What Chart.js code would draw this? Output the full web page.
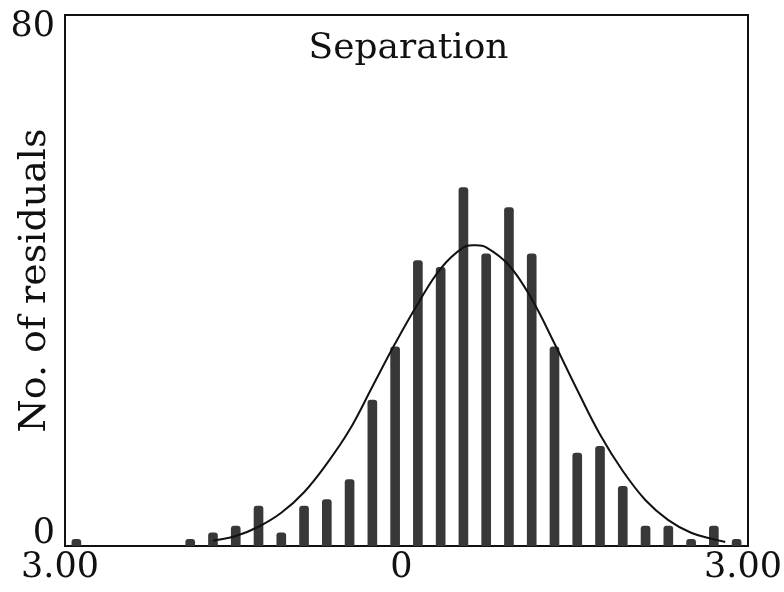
<!DOCTYPE html>
<html>
<head>
<meta charset="utf-8">
<script src="https://cdn.jsdelivr.net/npm/chart.js@4/dist/chart.umd.min.js"></script>
<style>
  html, body { margin: 0; padding: 0; background: #fff; }
  #wrap { position: relative; width: 784px; height: 592px; }
</style>
</head>
<body>
<div id="wrap"><canvas id="chart"></canvas></div>
<script>
// Histogram of separation residuals (bin width 0.2, bins labelled by centre)
const binCentres = [-2.9, -1.9, -1.7, -1.5, -1.3, -1.1, -0.9, -0.7, -0.5, -0.3, -0.1,
                    0.1, 0.3, 0.5, 0.7, 0.9, 1.1, 1.3, 1.5, 1.7, 1.9, 2.1, 2.3, 2.5, 2.7, 2.9];
const residualCounts = [1, 1, 2, 3, 6, 2, 6, 7, 10, 22, 30,
                        43, 42, 54, 44, 51, 44, 30, 14, 15, 9, 3, 3, 1, 3, 1];

// Fitted normal curve, sampled along the x axis
const curveX = [-1.7, -1.5, -1.3, -1.1, -0.9, -0.7, -0.5, -0.3, -0.1, 0.1, 0.3, 0.5, 0.6,
                0.7, 0.9, 1.1, 1.3, 1.5, 1.7, 1.9, 2.1, 2.3, 2.5, 2.7, 2.8];
const curveY = [0.8, 1.5, 2.9, 5.0, 8.1, 12.4, 17.5, 24.0, 30.5, 36.5, 41.8, 45.0, 45.3,
                45.0, 42.3, 37.2, 30.5, 23.5, 16.8, 11.3, 6.9, 3.9, 2.0, 1.0, 0.6];

// Axis ticks
const xTickValues = [-3, 0, 3];
const xTickLabels = ['3.00', '0', '3.00'];
const yTickValues = [0, 80];
const yTickLabels = ['0', '80'];

const chartTitle = 'Separation';
const yAxisTitle = 'No. of residuals';

const SERIF = '"DejaVu Serif", "Liberation Serif", serif';
const INK = '#111';

// Box around the plot area and the title written inside it
const frameAndTitle = {
  id: 'frameAndTitle',
  beforeDatasetsDraw(chart) {
    const { ctx, chartArea: a } = chart;
    ctx.save();
    ctx.strokeStyle = INK;
    ctx.lineWidth = 2;
    ctx.strokeRect(a.left, a.top, a.right - a.left, a.bottom - a.top);
    ctx.restore();
  },
  afterDraw(chart) {
    const { ctx, chartArea: a } = chart;
    ctx.save();
    ctx.font = '36px ' + SERIF;
    ctx.fillStyle = INK;
    ctx.textAlign = 'center';
    ctx.textBaseline = 'alphabetic';
    ctx.fillText(chartTitle, (a.left + a.right) / 2 + 2, a.top + 43);
    ctx.restore();
  }
};

new Chart(document.getElementById('chart'), {
  type: 'bar',
  data: {
    datasets: [
      {
        type: 'line',
        data: curveX.map((x, i) => ({ x, y: curveY[i] })),
        borderColor: INK,
        borderWidth: 2,
        pointRadius: 0,
        tension: 0.4,
        fill: false,
        order: 0
      },
      {
        type: 'bar',
        data: binCentres.map((x, i) => ({ x, y: residualCounts[i] })),
        backgroundColor: '#383838',
        barThickness: 9,
        borderRadius: 3,
        order: 1
      }
    ]
  },
  options: {
    responsive: true,
    maintainAspectRatio: false,
    animation: false,
    layout: { padding: { top: 15, right: 36, bottom: 0, left: 0 } },
    plugins: {
      legend: { display: false },
      tooltip: { enabled: false }
    },
    scales: {
      x: {
        type: 'linear',
        min: -3,
        max: 3,
        offset: false,
        grid: { display: false, drawTicks: false },
        border: { display: false },
        afterBuildTicks: s => { s.ticks = xTickValues.map(v => ({ value: v })); },
        ticks: {
          padding: 1,
          labelOffset: -5,
          maxRotation: 0,
          autoSkip: false,
          color: INK,
          font: { family: SERIF, size: 35 },
          callback: v => xTickLabels[xTickValues.indexOf(v)]
        },
        afterFit: s => { s.height = 46; s.paddingLeft = 0; s.paddingRight = 0; }
      },
      y: {
        min: 0,
        max: 80,
        grid: { display: false, drawTicks: false },
        border: { display: false },
        afterBuildTicks: s => { s.ticks = yTickValues.map(v => ({ value: v })); },
        ticks: {
          padding: 10,
          autoSkip: false,
          color: INK,
          font: { family: SERIF, size: 35, lineHeight: 0.686 },
          // end labels are nudged inward so they sit beside the frame corners
          callback: v => {
            const lab = yTickLabels[yTickValues.indexOf(v)];
            if (v === yTickValues[0]) return [lab, ''];
            if (v === yTickValues[yTickValues.length - 1]) return ['', lab];
            return lab;
          }
        },
        title: {
          display: true,
          text: yAxisTitle,
          color: INK,
          font: { family: SERIF, size: 38 },
          padding: { top: 12, bottom: 0 }
        },
        afterFit: s => { s.width = 65; s.paddingTop = 0; s.paddingBottom = 0; }
      }
    }
  },
  plugins: [frameAndTitle]
});
</script>
</body>
</html>
